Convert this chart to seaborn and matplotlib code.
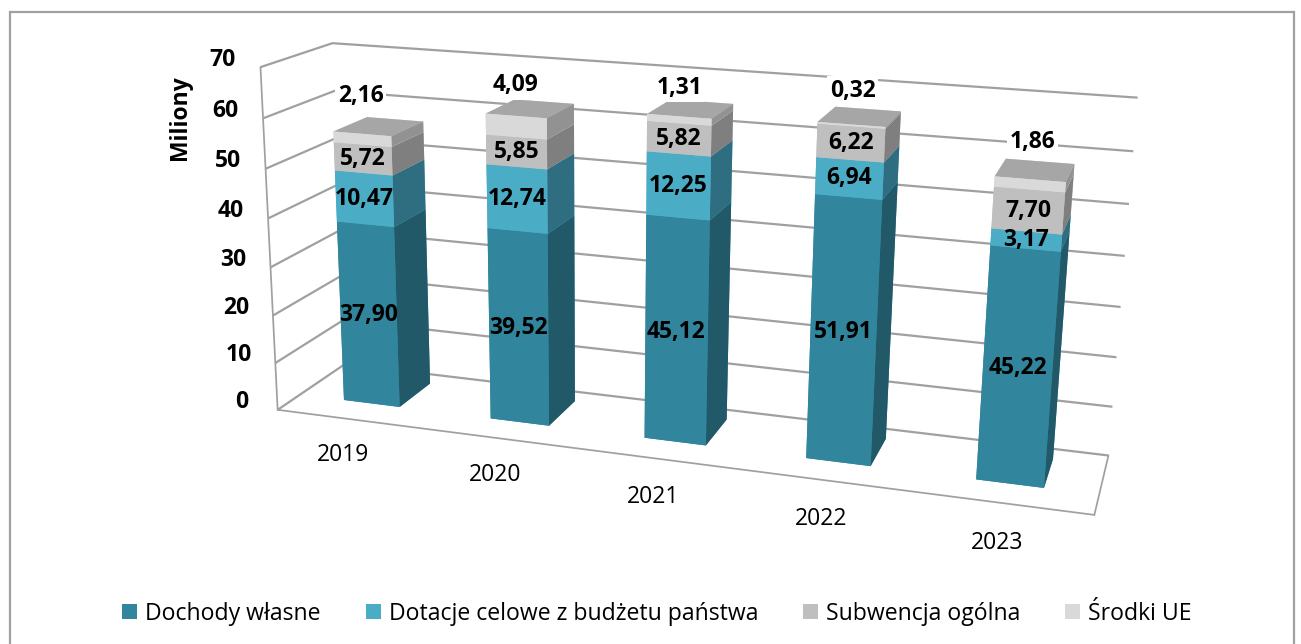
# =========================
# 3D stacked bars - dochody 2019-2023
# =========================
import matplotlib
matplotlib.use("Agg")
import matplotlib.pyplot as plt
from matplotlib.patches import Patch, Rectangle
import seaborn as sns

years = ["2019", "2020", "2021", "2022", "2023"]
dochody = [37.90, 39.52, 45.12, 51.91, 45.22]
dotacje = [10.47, 12.74, 12.25, 6.94, 3.17]
subwencja = [5.72, 5.85, 5.82, 6.22, 7.70]
srodki_ue = [2.16, 4.09, 1.31, 0.32, 1.86]
series_names = ["Dochody własne", "Dotacje celowe z budżetu państwa", "Subwencja ogólna", "Środki UE"]
z_ticks = [0, 10, 20, 30, 40, 50, 60, 70]

front_colors = sns.color_palette(["#31859C", "#4BACC6", "#BFBFBF", "#D9D9D9"])
side_colors = sns.color_palette(["#215968", "#2F6E80", "#7F7F7F", "#929292"])
top_color = "#A6A6A6"
line_color = "#A0A0A0"

# how far the label of the top segment floats above its bar
top_label_lift = [7.6, 6.0, 5.4, 6.2, 6.8]

sns.set_theme(style="white")
plt.rcParams["font.family"] = ["Open Sans", "DejaVu Sans"]

fig = plt.figure(figsize=(13.01, 6.44), dpi=100)
ax = fig.add_axes([0.0202, 0.08, 1, 1], projection="3d", computed_zorder=False)
ax.set_proj_type("persp", focal_length=0.539)
ax.view_init(elev=16.133, azim=-73.234, roll=-0.794)
ax.set_box_aspect((5, 0.913, 2.156), zoom=1.406)

# bars
stacks = [dochody, dotacje, subwencja, srodki_ue]
bar_w = 0.385
bar_d = 0.5
y0 = 0.32
for i, year in enumerate(years):
    bottom = 0
    x0 = i + (1 - bar_w) / 2
    for s, values in enumerate(stacks):
        h = values[i]
        is_top = s == len(stacks) - 1
        # face order: bottom, top, front, back, left, right
        cols = [front_colors[s], top_color if is_top else front_colors[s], front_colors[s],
                front_colors[s], front_colors[s], side_colors[s]]
        bars = ax.bar3d(x0, y0, bottom, bar_w, bar_d, h, color=cols, shade=False, linewidth=0)
        bars.set_zorder(10 + i + s * 0.1)
        bars.set_clip_on(False)  # the 3d axes box is much narrower than the picture
        label = f"{h:.2f}".replace(".", ",")
        if is_top:
            ax.text(x0 + bar_w / 2, y0, bottom + h + top_label_lift[i], label,
                    ha="center", va="center", fontsize=16.5, fontweight="bold", color="black", zorder=30,
                    bbox=dict(facecolor="white", edgecolor="none", pad=2))
        else:
            ax.text(x0 + bar_w / 2, y0, bottom + h / 2, label,
                    ha="center", va="center", fontsize=16.5, fontweight="bold", color="black", zorder=30)
        bottom += h
    ax.text(i + 0.49, -0.1, -6.6, year, ha="center", va="center", fontsize=16.5, color="black", zorder=30)

# bar3d autoscales, so the limits go after the bars
ax.set_xlim(0, 5)
ax.set_ylim(0, 1)
ax.set_zlim(0, 70)

# walls
for axis in (ax.xaxis, ax.yaxis, ax.zaxis):
    axis.set_pane_color((1, 1, 1, 0))
    axis.pane.set_edgecolor(line_color)
    axis.pane.set_linewidth(1.6)
    axis.line.set_color(line_color)
    axis._axinfo["grid"].update(color=line_color, linewidth=1.6)
    axis._axinfo["tick"].update(inward_factor=0, outward_factor=0)
ax.set_xticks([])
ax.set_yticks([])
ax.set_zticks(z_ticks)
ax.set_zticklabels([str(z) for z in z_ticks], fontweight="bold", fontsize=16.5, color="black", va="baseline")
ax.zaxis.set_ticks_position("lower")
ax.tick_params(axis="z", pad=3)

ax.text2D(180 / 1301, 1 - 118 / 644, "Miliony", transform=fig.transFigure, rotation=90,
          ha="center", va="center", fontsize=16.5, fontweight="bold", color="black")

handles = [Patch(facecolor=c, edgecolor="none") for c in front_colors]
fig.legend(handles, series_names, loc="lower center", bbox_to_anchor=(0.505, -0.004), ncol=4, frameon=False,
           fontsize=16.6, handlelength=0.65, handleheight=0.65, handletextpad=0.35, columnspacing=1.95,
           labelcolor="black")

fig.add_artist(Rectangle((10 / 1301, -0.01), 1284 / 1301, 1.01 - 12 / 644, transform=fig.transFigure,
                         fill=False, edgecolor=line_color, linewidth=1.6))

plt.savefig("out.png", dpi=100)
